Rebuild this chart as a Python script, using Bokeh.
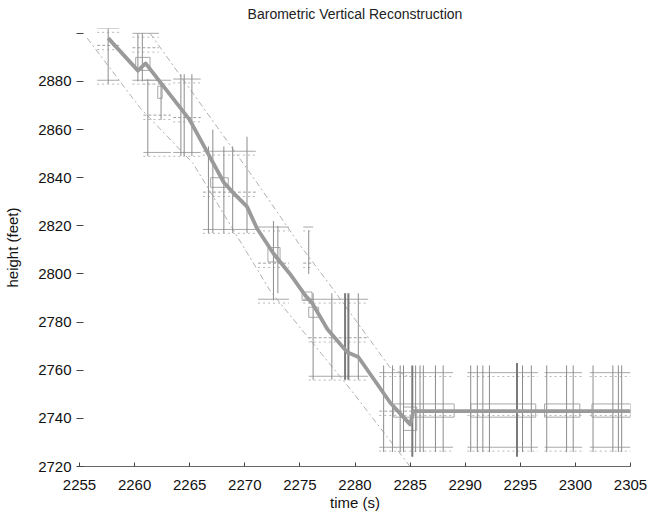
from bokeh.plotting import figure
from bokeh.models import Range1d, FixedTicker, ColumnDataSource
from bokeh.transform import dodge
from bokeh.embed import file_html
from bokeh.resources import INLINE

# ---------------- data ----------------
main_t = [2257.6, 2260.3, 2261.0, 2265.0, 2266.9, 2268.1, 2269.0, 2270.2, 2271.1, 2272.6,
          2274.1, 2275.5, 2276.1, 2277.5, 2279.3, 2280.3, 2283.2, 2285.0, 2285.3, 2305.0]
main_h = [2898.0, 2884.5, 2887.5, 2864.0, 2848.0, 2838.0, 2833.5, 2828.0, 2819.0, 2808.5,
          2800.0, 2791.0, 2788.0, 2777.0, 2767.5, 2765.5, 2746.5, 2737.5, 2743.0, 2743.0]

upper_t = [2261.4, 2267.5, 2271.4, 2275.0, 2277.8, 2283.2, 2285.0]
upper_h = [2900.0, 2861.0, 2836.0, 2812.0, 2795.0, 2761.0, 2757.0]
lower_t = [2255.7, 2260.5, 2265.3, 2272.3, 2279.6, 2285.0]
lower_h = [2898.0, 2869.0, 2846.0, 2793.0, 2752.0, 2720.0]

# cap clusters
cap_t0 = [2256.6, 2259.8, 2260.8, 2263.5, 2266.2, 2271.2, 2275.3, 2275.8, 2282.2, 2290.2, 2297.2, 2301.3]
cap_t1 = [2258.6, 2262.2, 2263.3, 2266.0, 2271.0, 2274.0, 2276.2, 2281.2, 2288.9, 2296.6, 2300.6, 2305.0]
cap_lo = [2880.5, 2880.5, 2850.5, 2850.5, 2818.5, 2789.5, 2789.5, 2757.5, 2728.0, 2728.0, 2728.0, 2728.0]
cap_hi = [2902.0, 2900.0, 2880.5, 2881.0, 2851.0, 2819.5, 2819.5, 2789.5, 2759.0, 2759.0, 2759.0, 2759.0]
cap_mid = [2895.0, 2894.0, 2866.0, 2865.0, 2834.0, 2804.5, 2804.5, 2773.5, 2743.0, 2743.0, 2743.0, 2743.0]

# vertical error bars
bar_t = [2257.6, 2260.3, 2260.7, 2261.2, 2262.4, 2264.2, 2264.5, 2265.2,
         2266.7, 2267.1, 2268.1, 2268.9, 2270.2, 2272.6, 2273.0, 2275.8,
         2276.2, 2277.9, 2280.3,
         2282.6, 2283.4, 2284.1, 2284.4, 2285.5, 2285.9, 2286.2, 2287.3, 2288.0,
         2290.5, 2291.1, 2291.6, 2292.2, 2295.2, 2296.0,
         2297.4, 2299.2, 2299.8,
         2301.6, 2303.4, 2303.9, 2304.2]
bar_lo = [2879.0, 2880.0, 2880.0, 2849.0, 2864.0, 2849.0, 2849.0, 2849.0,
          2817.0, 2817.0, 2817.0, 2817.0, 2817.0, 2789.0, 2792.0, 2800.0,
          2756.0, 2756.0, 2756.0,
          2726.0, 2726.0, 2726.0, 2726.0, 2726.0, 2726.0, 2726.0, 2726.0, 2726.0,
          2726.0, 2726.0, 2726.0, 2726.0, 2726.0, 2726.0,
          2726.0, 2726.0, 2726.0,
          2726.0, 2726.0, 2726.0, 2726.0]
bar_hi = [2902.0, 2900.0, 2900.0, 2881.0, 2879.0, 2883.0, 2883.0, 2883.0,
          2853.0, 2860.0, 2853.0, 2853.0, 2857.0, 2822.0, 2820.0, 2818.0,
          2792.0, 2792.0, 2792.0,
          2762.0, 2762.0, 2762.0, 2762.0, 2762.0, 2762.0, 2762.0, 2762.0, 2762.0,
          2762.0, 2762.0, 2762.0, 2762.0, 2762.0, 2762.0,
          2762.0, 2762.0, 2762.0,
          2762.0, 2762.0, 2762.0, 2762.0]
# darker / doubled bars
bold_t = [2279.1, 2279.4, 2285.2, 2294.7]
bold_lo = [2756.0, 2756.0, 2724.0, 2724.0]
bold_hi = [2792.0, 2792.0, 2762.0, 2763.0]

# small window boxes
box_t0 = [2260.1, 2262.1, 2266.9, 2272.1, 2275.2, 2275.8, 2284.4, 2283.5, 2290.5, 2297.2, 2301.5]
box_t1 = [2261.4, 2262.5, 2268.5, 2273.2, 2276.1, 2276.7, 2285.6, 2289.0, 2296.4, 2300.4, 2305.0]
box_h0 = [2884.6, 2873.0, 2836.0, 2805.0, 2789.0, 2782.0, 2735.0, 2740.5, 2740.5, 2740.5, 2740.5]
box_h1 = [2890.0, 2878.0, 2840.0, 2811.0, 2792.5, 2786.2, 2744.7, 2746.0, 2746.0, 2746.0, 2746.0]

x_ticks = [2255, 2260, 2265, 2270, 2275, 2280, 2285, 2290, 2295, 2300, 2305]
y_ticks = [2720, 2740, 2760, 2780, 2800, 2820, 2840, 2860, 2880, 2900]

# ---------------- figure ----------------
FONT = "Liberation Sans"
p = figure(width=647, height=517, output_backend="svg", toolbar_location=None,
           x_range=Range1d(2255, 2305), y_range=Range1d(2720, 2902),
           min_border_left=79, min_border_right=17, min_border_top=28, min_border_bottom=51)
p.title.text = "Barometric Vertical Reconstruction"
p.title.align = "center"
p.title.vertical_align = "top"
p.title.text_font = FONT
p.title.text_font_size = "14px"
p.title.text_font_style = "normal"
p.title.text_color = "#222222"
p.outline_line_color = None
p.xgrid.visible = False
p.ygrid.visible = False

caps = ColumnDataSource(dict(t0=cap_t0, t1=cap_t1, lo=cap_lo, hi=cap_hi, mid=cap_mid))
bars = ColumnDataSource(dict(t=bar_t, lo=bar_lo, hi=bar_hi))
bold = ColumnDataSource(dict(t=bold_t, lo=bold_lo, hi=bold_hi))
boxes = ColumnDataSource(dict(t0=box_t0, t1=box_t1, h0=box_h0, h1=box_h1))

# envelopes
p.line(upper_t, upper_h, line_color="#b0b0b0", line_width=1, line_dash="6 3 2 3")
p.line(lower_t, lower_h, line_color="#b0b0b0", line_width=1, line_dash="6 3 2 3")

# caps and their faint companion marks
p.segment(x0="t0", x1="t1", y0="hi", y1="hi", source=caps, line_color="#a8a8a8", line_width=1)
p.segment(x0="t0", x1="t1", y0="lo", y1="lo", source=caps, line_color="#a8a8a8", line_width=1)
p.segment(x0="t0", x1="t1", y0=dodge("hi", -1.6, range=p.y_range), y1=dodge("hi", -1.6, range=p.y_range),
          source=caps, line_color="#b8b8b8", line_width=1, line_dash="2 3")
p.segment(x0="t0", x1="t1", y0=dodge("lo", -1.6, range=p.y_range), y1=dodge("lo", -1.6, range=p.y_range),
          source=caps, line_color="#b8b8b8", line_width=1, line_dash="2 3")
p.segment(x0="t0", x1="t1", y0="mid", y1="mid", source=caps, line_color="#a0a0a0", line_width=1,
          line_dash="3 2")
p.segment(x0="t0", x1="t1", y0=dodge("mid", -1.8, range=p.y_range), y1=dodge("mid", -1.8, range=p.y_range),
          source=caps, line_color="#b8b8b8", line_width=1, line_dash="2 3")

# boxes
p.quad(left="t0", right="t1", bottom="h0", top="h1", source=boxes, fill_color=None,
       line_color="#a8a8a8", line_width=1)

# vertical bars
p.segment(x0="t", x1="t", y0="lo", y1="hi", source=bars, line_color="#8c8c8c", line_width=1)
p.segment(x0="t", x1="t", y0="lo", y1="hi", source=bold, line_color="#7a7a7a", line_width=2)

# main reconstruction
p.line(main_t, main_h, line_color="#9a9a9a", line_width=3.8, line_join="round")

# axes
xa = p.xaxis[0]
xa.ticker = FixedTicker(ticks=x_ticks)
xa.axis_line_color = "#666666"
xa.major_tick_line_color = "#444444"
xa.major_tick_in = 4
xa.major_tick_out = 0
xa.minor_tick_line_color = None
xa.major_label_text_font = FONT
xa.major_label_text_font_size = "15px"
xa.major_label_text_color = "#111111"
xa.major_label_standoff = 13
xa.axis_label = "time (s)"
xa.axis_label_text_font = FONT
xa.axis_label_text_font_size = "15px"
xa.axis_label_text_font_style = "normal"
xa.axis_label_text_color = "#111111"
xa.axis_label_standoff = 1

ya = p.yaxis[0]
ya.ticker = FixedTicker(ticks=y_ticks)
ya.major_label_overrides = {2900: ""}
ya.axis_line_color = None
ya.major_tick_line_color = "#444444"
ya.major_tick_in = 4
ya.major_tick_out = 3
ya.minor_tick_line_color = None
ya.major_label_text_font = FONT
ya.major_label_text_font_size = "15px"
ya.major_label_text_color = "#111111"
ya.major_label_standoff = 5
ya.axis_label = "height (feet)"
ya.axis_label_text_font = FONT
ya.axis_label_text_font_size = "15px"
ya.axis_label_text_font_style = "normal"
ya.axis_label_text_color = "#111111"
ya.axis_label_standoff = 14

open("out.html", "w").write(file_html(p, INLINE))
